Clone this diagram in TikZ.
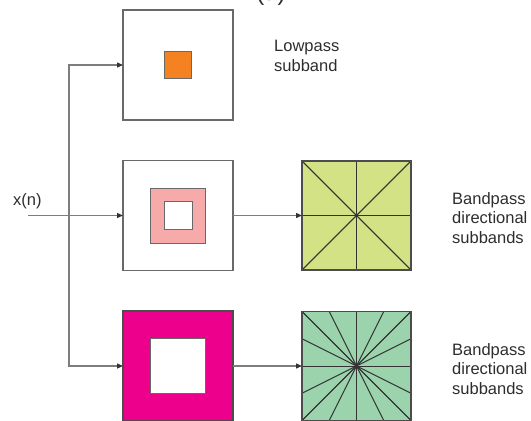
\documentclass[tikz,border=0pt]{standalone}
\usepackage{fontspec}
\setmainfont{Liberation Sans}
\usetikzlibrary{calc,arrows.meta}

\definecolor{lowcol}{RGB}{245,130,32}
\definecolor{ringcol}{RGB}{246,170,170}
\definecolor{hicol}{RGB}{236,0,140}
\definecolor{dirA}{RGB}{212,226,134}
\definecolor{dirB}{RGB}{154,211,172}
\definecolor{edgegray}{RGB}{105,105,105}
\definecolor{wiregray}{RGB}{125,125,125}
\definecolor{txtgray}{RGB}{45,45,45}

\begin{document}
\begin{tikzpicture}[x=1pt,y=-1pt,
		band/.style={draw=edgegray,line width=1.1pt,minimum size=#1,inner sep=0pt,outer sep=0pt},
		wire/.style={draw=wiregray,line width=1.3pt},
		feed/.style={wire,-{Triangle[length=6pt,width=5pt,color=black!80]}},
		fan/.style={draw=black!80,line width=1pt},
		bandtext/.style={align=left,anchor=north west,text=txtgray,inner sep=0pt,font=\fontsize{16.5}{19.5}\selectfont}]
			%%%%% START %%%%%
			\useasboundingbox (0,0) rectangle (531,421);
			
			\node[anchor=base,text=txtgray,font=\fontsize{24}{24}\selectfont] (tag) at (271,0.5) {(a)};
			
			% lowpass branch
			\node[band=110,fill=white] (lp) at (178,65) {};
			\node[band=27,line width=1pt,fill=lowcol] (lpcore) at (lp.center) {};
			
			% first bandpass branch
			\node[band=110,fill=white] (bp1) at (178,215.5) {};
			\node[band=55,line width=1pt,fill=ringcol] (ring1) at (bp1.center) {};
			\node[band=28,line width=1pt,fill=white] (hole1) at (bp1.center) {};
			
			% second bandpass branch
			\node[band=110,draw=black!70,fill=hicol] (bp2) at (178,366) {};
			\node[band=55,line width=1pt,fill=white] (hole2) at (bp2.center) {};
			
			% directional splits
			\node[band=109,draw=black!75,fill=dirA] (dir1) at (356.5,215.5) {};
			\node[band=109,draw=black!75,fill=dirB] (dir2) at (356.5,366) {};
			\foreach \t in {0,0.5,1}{
				\draw[fan] ($(dir1.north west)!\t!(dir1.north east)$) -- ($(dir1.south east)!\t!(dir1.south west)$);
				\draw[fan] ($(dir1.north west)!\t!(dir1.south west)$) -- ($(dir1.south east)!\t!(dir1.north east)$);
			}
			\foreach \t in {0,0.25,...,1}{
				\draw[fan] ($(dir2.north west)!\t!(dir2.north east)$) -- ($(dir2.south east)!\t!(dir2.south west)$);
				\draw[fan] ($(dir2.north west)!\t!(dir2.south west)$) -- ($(dir2.south east)!\t!(dir2.north east)$);
			}
			\draw[line width=1.1pt,draw=black!70] (dir1.north west) rectangle (dir1.south east);
			\draw[line width=1.1pt,draw=black!70] (dir2.north west) rectangle (dir2.south east);
			
			% input and branching wires
			\coordinate (xin) at (28,215.5);
			\coordinate (split) at (69,215.5);
			\node[anchor=base west,text=txtgray,inner sep=0pt,font=\fontsize{16.5}{19.5}\selectfont] (xlab) at (13,205) {x(n)};
			\draw[feed] (xin) -- (bp1.west);
			\draw[feed] (bp2.west -| split) |- (lp.west);
			\draw[feed] (split) |- (bp2.west);
			\draw[feed] (bp1.east) -- (dir1.west);
			\draw[feed] (bp2.east) -- (dir2.west);
			
			% subband names
			\node[bandtext] (lptext) at (274,40) {Lowpass\\subband};
			\node[bandtext] (bp1text) at (452,192) {Bandpass\\directional\\subbands};
			\node[bandtext] (bp2text) at (452,343) {Bandpass\\directional\\subbands};
			%%%%% END %%%%%
		\end{tikzpicture}
\end{document}
